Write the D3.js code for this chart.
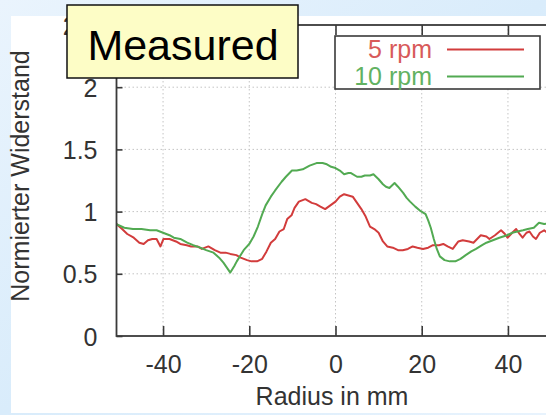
<!DOCTYPE html>
<html><head><meta charset="utf-8">
<script src="https://cdn.jsdelivr.net/npm/d3@7"></script>
<style>html,body{margin:0;padding:0;overflow:hidden;background:#e4f1fc}svg{display:block}</style>
</head><body>
<svg id="chart" width="546" height="415"></svg>
<script>
const xTicks = [-40, -20, 0, 20, 40];
const yTicks = [0, 0.5, 1, 1.5, 2, 2.5];
const seriesNames = ["5 rpm", "10 rpm"];
const rpm5 = [[-50.8,0.90],[-49.5,0.86],[-48.3,0.82],[-46.8,0.79],[-45.5,0.75],[-44.5,0.74],[-43.5,0.77],[-42.5,0.78],[-41.5,0.78],[-40.6,0.72],[-39.9,0.78],[-38.5,0.78],[-37,0.76],[-36,0.74],[-34.5,0.73],[-33.5,0.72],[-32,0.72],[-31,0.70],[-29.5,0.72],[-28,0.69],[-26.7,0.67],[-25.5,0.67],[-24.4,0.66],[-23,0.65],[-22,0.63],[-20.5,0.61],[-19.5,0.60],[-18.2,0.60],[-17,0.62],[-16,0.68],[-15,0.75],[-14,0.78],[-13,0.84],[-12,0.86],[-11.2,0.94],[-10.2,0.97],[-9.5,1.03],[-8.5,1.08],[-7,1.10],[-5.5,1.07],[-4.5,1.06],[-3.5,1.04],[-2.4,1.02],[-1.2,1.05],[0,1.08],[1,1.12],[2,1.14],[3,1.13],[4,1.12],[5,1.07],[6,1.02],[7,0.96],[8,0.88],[9,0.86],[10,0.83],[11,0.76],[12,0.72],[13.3,0.71],[14.5,0.69],[15.6,0.69],[16.8,0.70],[17.9,0.72],[19,0.71],[20.3,0.70],[21.5,0.71],[22.6,0.73],[24,0.73],[25,0.74],[26,0.72],[27.2,0.70],[28.5,0.76],[29.5,0.77],[31,0.76],[32,0.75],[33.7,0.81],[35,0.80],[35.7,0.78],[37,0.81],[38.4,0.85],[39.3,0.82],[39.9,0.79],[41,0.83],[41.9,0.86],[42.7,0.82],[43.4,0.79],[44.3,0.83],[45,0.84],[45.8,0.80],[46.5,0.78],[47.4,0.83],[48.4,0.85],[49.5,0.82],[50.8,0.86]];
const rpm10 = [[-50.8,0.90],[-49,0.87],[-47,0.86],[-45,0.86],[-43,0.85],[-41.5,0.85],[-40,0.83],[-38.5,0.81],[-37.5,0.79],[-36,0.78],[-34.4,0.75],[-33,0.73],[-31.4,0.71],[-30,0.69],[-28.3,0.67],[-27,0.63],[-26,0.59],[-25,0.54],[-24.4,0.51],[-23.5,0.56],[-22.9,0.60],[-21.3,0.69],[-20,0.74],[-19,0.80],[-18,0.88],[-17,0.98],[-16.2,1.05],[-15,1.12],[-14,1.17],[-12.5,1.24],[-11.5,1.28],[-10.1,1.33],[-9,1.33],[-7.6,1.34],[-6,1.37],[-4.4,1.39],[-3,1.39],[-2,1.38],[-1,1.36],[0,1.35],[1,1.33],[2,1.30],[3,1.31],[3.6,1.31],[5,1.28],[6,1.28],[6.8,1.29],[8,1.29],[8.8,1.30],[10,1.26],[11,1.22],[11.7,1.20],[12.5,1.19],[13.7,1.23],[14.5,1.20],[15.7,1.15],[16.5,1.11],[17.3,1.08],[18.5,1.04],[19.5,1.01],[20.9,0.98],[21.5,0.93],[22.1,0.87],[22.8,0.78],[23.5,0.70],[24.2,0.64],[25.3,0.61],[26.5,0.60],[27.8,0.60],[29,0.62],[30.2,0.65],[31.5,0.68],[32.6,0.70],[34,0.73],[35,0.75],[36.5,0.77],[38,0.79],[39.8,0.81],[41,0.83],[42.2,0.84],[43.5,0.85],[44.6,0.86],[46,0.87],[47.2,0.91],[48.4,0.90],[50,0.91],[50.8,0.92]];
const seriesData = [rpm5, rpm10];
const seriesColors = ["#d23c3c", "#52aa52"];
const labelColors = ["#d85a5a", "#62b262"];

const svg = d3.select("#chart");
const W = 546, H = 415;
const L = 116.5, R = 554.5, T = 25, B = 336;
const font = "'Liberation Sans', Arial, Helvetica, sans-serif";

// slide background
const defs = svg.append("defs");
const grad = defs.append("linearGradient").attr("id","bg").attr("x1","0").attr("y1","0").attr("x2","1").attr("y2","1");
grad.append("stop").attr("offset","0").attr("stop-color","#eaf4fd");
grad.append("stop").attr("offset","0.5").attr("stop-color","#d9ecfb");
grad.append("stop").attr("offset","1").attr("stop-color","#e8f3fd");
svg.append("rect").attr("width",W).attr("height",H).attr("fill","url(#bg)");
svg.append("rect").attr("x",11).attr("y",16).attr("width",W-11).attr("height",397).attr("fill","#ffffff");

const x = d3.scaleLinear().domain([-50.8, 50.8]).range([L, R]);
const y = d3.scaleLinear().domain([0, 2.5]).range([B, T]);

defs.append("clipPath").attr("id","clip").append("rect")
  .attr("x",L).attr("y",T).attr("width",R-L).attr("height",B-T);

// grid
const grid = svg.append("g");
grid.selectAll(".gx").data(xTicks).join("line")
  .attr("x1",d=>x(d)).attr("x2",d=>x(d)).attr("y1",T).attr("y2",B)
  .attr("stroke","#c4c4c4").attr("stroke-width",1).attr("stroke-dasharray","1.5,2.5");
grid.selectAll(".gy").data(yTicks.filter(d=>d>0 && d<2.5)).join("line")
  .attr("x1",L).attr("x2",R).attr("y1",d=>y(d)).attr("y2",d=>y(d))
  .attr("stroke","#c4c4c4").attr("stroke-width",1).attr("stroke-dasharray","1.5,2.5");

// curves
const line = d3.line().x(d=>x(d[0])).y(d=>y(d[1]));
const curves = svg.append("g").attr("clip-path","url(#clip)");
seriesData.forEach((s,i)=>{
  curves.append("path").datum(s).attr("d",line).attr("fill","none")
    .attr("stroke",seriesColors[i]).attr("stroke-width",2).attr("stroke-linejoin","round");
});

// axes (inward ticks, mirrored)
const axisStyle = g => {
  g.select(".domain").remove();
  g.selectAll(".tick line").attr("stroke","#3a3a3a").attr("stroke-width",1.6);
  g.selectAll("text").attr("fill","#333").style("font-family",font).style("font-size","25px");
};
svg.append("g").attr("transform",`translate(0,${B})`)
  .call(d3.axisBottom(x).tickValues(xTicks).tickSize(-10).tickPadding(22).tickFormat(d=>String(d)))
  .call(axisStyle)
  .call(g=>g.selectAll("text").attr("y",null).attr("dy",null).attr("transform","translate(0,37)"));
svg.append("g").attr("transform",`translate(0,${T})`)
  .call(d3.axisTop(x).tickValues(xTicks).tickSize(-10).tickFormat(""))
  .call(axisStyle);
svg.append("g").attr("transform",`translate(${L},0)`)
  .call(d3.axisLeft(y).tickValues(yTicks).tickSize(-6).tickPadding(0).tickFormat(d=>String(d)))
  .call(axisStyle)
  .call(g=>g.selectAll("text").attr("x",-19).attr("dy","0.36em"));

// frame
svg.append("rect").attr("x",L).attr("y",T).attr("width",R-L).attr("height",B-T)
  .attr("fill","none").attr("stroke","#3a3a3a").attr("stroke-width",1.8);

// axis titles
svg.append("text").attr("x",332).attr("y",405).attr("text-anchor","middle")
  .attr("fill","#333").style("font-family",font).style("font-size","25px").text("Radius in mm");
svg.append("text").attr("transform","translate(29,176) rotate(-90)").attr("text-anchor","middle")
  .attr("fill","#333").style("font-family",font).style("font-size","25px").text("Normierter Widerstand");

// legend
const lg = svg.append("g");
lg.append("rect").attr("x",335).attr("y",36).attr("width",205).attr("height",53)
  .attr("fill","#ffffff").attr("stroke","#3a3a3a").attr("stroke-width",1.6);
seriesNames.forEach((n,i)=>{
  const yy = 49.5 + i*27;
  lg.append("text").attr("x",432).attr("y",yy).attr("dy","0.35em").attr("text-anchor","end")
    .attr("fill",labelColors[i]).style("font-family",font).style("font-size","25px").text(n);
  lg.append("line").attr("x1",447).attr("x2",524).attr("y1",yy).attr("y2",yy)
    .attr("stroke",seriesColors[i]).attr("stroke-width",2);
});

// annotation box
svg.append("rect").attr("x",67).attr("y",5).attr("width",231).attr("height",73)
  .attr("fill","#fdfdc6").attr("stroke","#111").attr("stroke-width",1.5);
svg.append("text").attr("x",183).attr("y",60).attr("text-anchor","middle")
  .attr("fill","#000").style("font-family",font).style("font-size","43px").text("Measured");
</script>
</body></html>
